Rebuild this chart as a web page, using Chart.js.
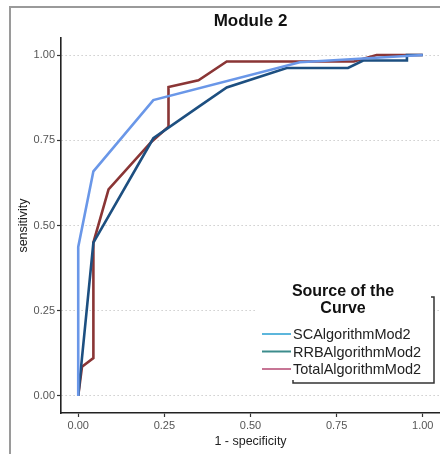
<!DOCTYPE html>
<html>
<head>
<meta charset="utf-8">
<script src="https://cdn.jsdelivr.net/npm/chart.js@4"></script>
<style>
  html, body { margin: 0; padding: 0; background: #fff; }
  #wrap { width: 440px; height: 454px; position: relative; }
</style>
</head>
<body>
<div id="wrap"><canvas id="roc"></canvas></div>
<script>
const fontFam = '"Liberation Sans", Arial, sans-serif';

// ROC curves: [1 - specificity, sensitivity]
const scX = [0, 0, 0.044, 0.218, 0.643, 1];
const scY = [0, 0.437, 0.659, 0.868, 0.979, 1];

const rrbX = [0, 0.044, 0.218, 0.349, 0.431, 0.605, 0.783, 0.827, 0.954, 0.954, 1];
const rrbY = [0, 0.450, 0.756, 0.848, 0.905, 0.962, 0.962, 0.984, 0.984, 1, 1];

const totX = [0, 0.011, 0.044, 0.044, 0.088, 0.212, 0.262, 0.262, 0.349, 0.431, 0.80, 0.866, 1];
const totY = [0, 0.086, 0.111, 0.450, 0.606, 0.745, 0.790, 0.906, 0.926, 0.981, 0.981, 1, 1];

const tickVals = [0, 0.25, 0.5, 0.75, 1];

const seriesNames = ["SCAlgorithmMod2", "RRBAlgorithmMod2", "TotalAlgorithmMod2"];
const lineColors = ["#6a97e8", "#1d4f80", "#8a3535"];
const keyColors = ["#5cb6dc", "#3c8c8c", "#c77595"];

function pts(xs, ys) {
  return xs.map((x, i) => ({ x: x, y: ys[i] }));
}

// frame, title and the ggplot-ish legend box
const decor = {
  id: "decor",
  afterDraw(chart) {
    const ctx = chart.ctx;
    const a = chart.chartArea;
    ctx.save();

    ctx.strokeStyle = "#9a9a9a";
    ctx.lineWidth = 2;
    ctx.beginPath();
    ctx.moveTo(10, 454);
    ctx.lineTo(10, 7);
    ctx.lineTo(440, 7);
    ctx.stroke();

    ctx.fillStyle = "#111";
    ctx.font = "bold 17px " + fontFam;
    ctx.textAlign = "center";
    ctx.textBaseline = "middle";
    ctx.fillText("Module 2", (a.left + a.right) / 2, 21);

    // legend
    const lx = 255, ly = 278, rx = 434, by = 383;
    ctx.fillStyle = "#fff";
    ctx.fillRect(lx, ly, rx - lx, by - ly);
    ctx.strokeStyle = "#333";
    ctx.lineWidth = 1.5;
    ctx.beginPath();
    ctx.moveTo(rx - 3, 297);
    ctx.lineTo(rx, 297);
    ctx.lineTo(rx, by);
    ctx.lineTo(293, by);
    ctx.lineTo(293, by - 3);
    ctx.stroke();

    ctx.fillStyle = "#111";
    ctx.font = "bold 16px " + fontFam;
    ctx.fillText("Source of the", 343, 292);
    ctx.fillText("Curve", 343, 309);

    ctx.font = "14.5px " + fontFam;
    ctx.textAlign = "left";
    seriesNames.forEach((name, i) => {
      const y = 334 + i * 17.5;
      ctx.strokeStyle = keyColors[i];
      ctx.lineWidth = 2;
      ctx.beginPath();
      ctx.moveTo(262, y);
      ctx.lineTo(291, y);
      ctx.stroke();
      ctx.fillStyle = "#222";
      ctx.fillText(name, 293, y + 1);
    });
    ctx.restore();
  }
};

new Chart(document.getElementById("roc"), {
  type: "scatter",
  data: {
    datasets: [
      { label: seriesNames[0], data: pts(scX, scY), borderColor: lineColors[0] },
      { label: seriesNames[1], data: pts(rrbX, rrbY), borderColor: lineColors[1] },
      { label: seriesNames[2], data: pts(totX, totY), borderColor: lineColors[2] }
    ]
  },
  options: {
    responsive: true,
    maintainAspectRatio: false,
    animation: false,
    showLine: true,
    elements: {
      point: { radius: 0 },
      line: { borderWidth: 2.6, tension: 0, borderJoinStyle: "miter" }
    },
    layout: { padding: { top: 38, left: 0, right: 0, bottom: 0 } },
    plugins: {
      legend: { display: false },
      tooltip: { enabled: false }
    },
    scales: {
      x: {
        type: "linear",
        min: -0.05,
        max: 1.05,
        afterBuildTicks: s => { s.ticks = tickVals.map(v => ({ value: v })); },
        afterFit: s => { s.height = 41; },
        ticks: {
          color: "#555",
          padding: 2,
          font: { family: fontFam, size: 11 },
          callback: v => v.toFixed(2)
        },
        grid: { drawOnChartArea: false, drawTicks: true, tickLength: 4, tickColor: "#333", tickWidth: 1.2 },
        border: { display: true, color: "#222", width: 1.6 },
        title: {
          display: true,
          text: "1 - specificity",
          color: "#222",
          font: { family: fontFam, size: 12.5 },
          padding: { top: 5, bottom: 5 }
        }
      },
      y: {
        type: "linear",
        min: -0.05,
        max: 1.05,
        afterBuildTicks: s => { s.ticks = tickVals.map(v => ({ value: v })); },
        afterFit: s => { s.width = 61; },
        ticks: {
          color: "#555",
          padding: 2,
          font: { family: fontFam, size: 11 },
          callback: v => v.toFixed(2)
        },
        grid: { color: "#b5b5b5", lineWidth: 1, tickLength: 4, tickColor: "#333", tickWidth: 1.2 },
        border: { display: true, color: "#222", width: 1.6, dash: [1, 3] },
        title: {
          display: true,
          text: "sensitivity",
          color: "#222",
          font: { family: fontFam, size: 12.5 },
          padding: { top: 16, bottom: 16 }
        }
      }
    }
  },
  plugins: [decor]
});
</script>
</body>
</html>
